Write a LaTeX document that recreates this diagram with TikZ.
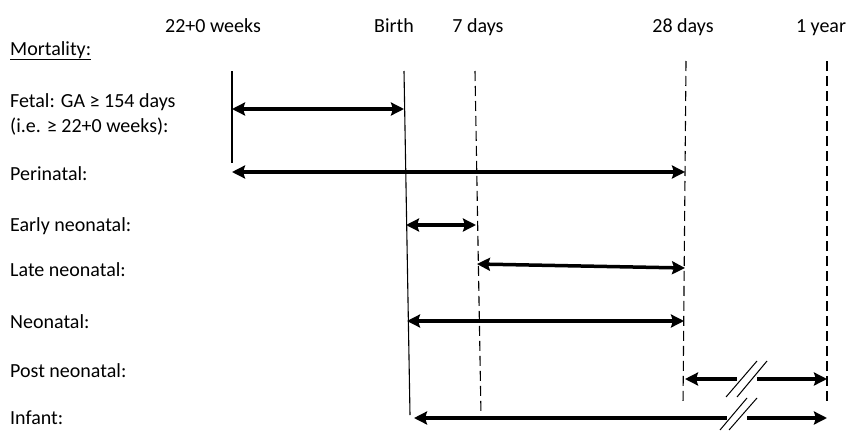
\documentclass[tikz,border=0pt]{standalone}
\usepackage{fontspec}
\setmainfont{Carlito}
\usetikzlibrary{arrows.meta}
\begin{document}
\begin{tikzpicture}[x=1pt,y=-1pt,
  txt/.style={inner sep=0pt,font=\fontsize{20}{24}\selectfont},
  lbl/.style={txt,anchor=base west},
  toplbl/.style={txt,anchor=base},
  solidv/.style={line width=1.1pt},
  dashv/.style={line width=1.1pt,dash pattern=on 10pt off 5pt},
  tip/.tip={Stealth[length=13pt,width=13pt,inset=2pt]},
  dbl/.style={line width=3.5pt,tip-tip},
  ltip/.style={line width=3.5pt,tip-},
  rtip/.style={line width=3.5pt,-tip},
  brk/.style={line width=1pt}]
\useasboundingbox (0,0) rectangle (848,431);

% top labels
\node[toplbl] (tw) at (213,32) {22+0 weeks};
\node[toplbl] (tb) at (394,32) {Birth};
\node[toplbl] (t7) at (478,32) {7 days};
\node[toplbl] (t28) at (683,32) {28 days};
\node[toplbl] (ty) at (821,32) {1 year};

% row labels
\node[lbl] (mort) at (10,55) {\underline{Mortality:}};
\node[lbl] (fet1) at (10,107) {Fetal: GA ≥ 154 days};
\node[lbl] (fet2) at (10,132) {(i.e. ≥ 22+0 weeks):};
\node[lbl] (peri) at (10,180) {Perinatal:};
\node[lbl] (early) at (10,231) {Early neonatal:};
\node[lbl] (late) at (10,276) {Late neonatal:};
\node[lbl] (neo) at (10,328) {Neonatal:};
\node[lbl] (post) at (10,377) {Post neonatal:};
\node[lbl] (inf) at (10,424) {Infant:};

% vertical markers
\coordinate (w22a) at (232,71);  \coordinate (w22b) at (232,163);
\coordinate (bira) at (404,71);  \coordinate (birb) at (410,415);
\coordinate (d7a) at (475,71);   \coordinate (d7b) at (481,415);
\coordinate (d28a) at (686,61);  \coordinate (d28b) at (683,405);
\coordinate (y1a) at (827,61);   \coordinate (y1b) at (827,405);
\draw[solidv] (w22a) -- (w22b);
\draw[solidv] (bira) -- (birb);
\draw[dashv] (d7a) -- (d7b);
\draw[dashv] (d28a) -- (d28b);
\draw[dashv] (y1a) -- (y1b);

% arrows
\coordinate (f1) at (232,109); \coordinate (f2) at (404,109);
\draw[dbl] (f1) -- (f2);
\coordinate (p1) at (232,172); \coordinate (p2) at (685,172);
\draw[dbl] (p1) -- (p2);
\coordinate (e1) at (406,225); \coordinate (e2) at (476,225);
\draw[dbl] (e1) -- (e2);
\coordinate (l1) at (477,264); \coordinate (l2) at (685,268);
\draw[dbl] (l1) -- (l2);
\coordinate (n1) at (407,321); \coordinate (n2) at (684,321);
\draw[dbl] (n1) -- (n2);

% post neonatal (broken)
\coordinate (pn1) at (685,379); \coordinate (pn2) at (737,379);
\coordinate (pn3) at (757,379); \coordinate (pn4) at (827,379);
\draw[ltip] (pn1) -- (pn2);
\draw[rtip] (pn3) -- (pn4);
\coordinate (ps1a) at (726,397); \coordinate (ps1b) at (757,361);
\coordinate (ps2a) at (737,397); \coordinate (ps2b) at (767,361);
\draw[brk] (ps1a) -- (ps1b);
\draw[brk] (ps2a) -- (ps2b);

% infant (broken)
\coordinate (in1) at (414,418); \coordinate (in2) at (727,418);
\coordinate (in3) at (747,418); \coordinate (in4) at (827,418);
\draw[ltip] (in1) -- (in2);
\draw[rtip] (in3) -- (in4);
\coordinate (is1a) at (720,430); \coordinate (is1b) at (747,398);
\coordinate (is2a) at (729,430); \coordinate (is2b) at (757,398);
\draw[brk] (is1a) -- (is1b);
\draw[brk] (is2a) -- (is2b);
\end{tikzpicture}
\end{document}
